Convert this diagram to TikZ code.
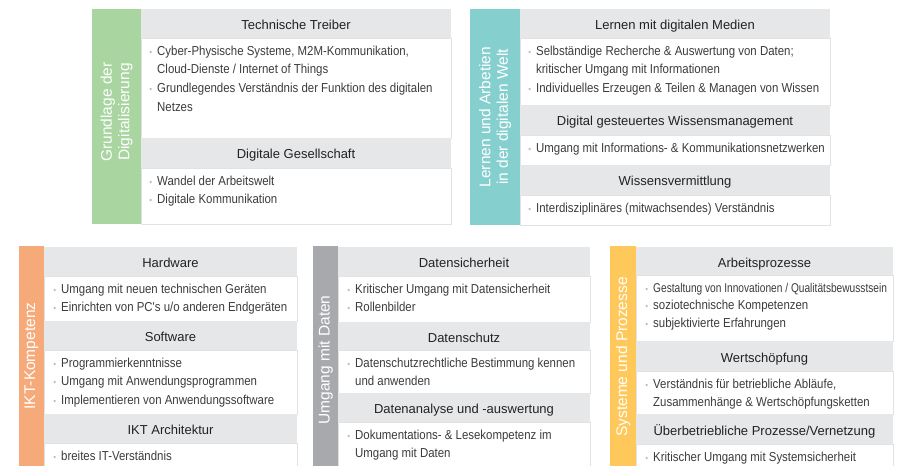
\documentclass[tikz,border=0pt]{standalone}
\usepackage{fontspec}
\setmainfont{Liberation Sans}
\newfontfamily\itemfont{Liberation Sans}[FakeStretch=0.88]
\newfontfamily\narrowfont{Liberation Sans}[FakeStretch=0.8]

\definecolor{barGreen}{HTML}{A8D5A0}
\definecolor{barTeal}{HTML}{86CFCF}
\definecolor{barOrange}{HTML}{F6AA7A}
\definecolor{barGray}{HTML}{A7A9AC}
\definecolor{barYellow}{HTML}{FEC85A}
\definecolor{headGray}{HTML}{E6E7E8}
\definecolor{lineGray}{HTML}{E2E2E2}
\definecolor{dotGray}{HTML}{BDBDBD}
\definecolor{itemText}{HTML}{3C3C3C}
\definecolor{headText}{HTML}{222222}

% bullet in front of a list line
\newcommand{\itm}{\rule{0pt}{11pt}\llap{\textcolor{dotGray}{\fontsize{9}{9}\selectfont •}\hspace{5pt}}}

\begin{document}
\begin{tikzpicture}[x=1pt,y=-1pt,
  head/.style={anchor=base, font=\fontsize{13}{15}\selectfont, text=headText},
  items/.style={anchor=north west, align=left, inner sep=0pt, font=\itemfont\fontsize{13}{18.7}\selectfont, text=itemText},
  side/.style={rotate=90, align=center, inner sep=0pt, text=white, font=\fontsize{15.5}{17.5}\selectfont},
  cell/.style={fill=white, draw=lineGray, line width=0.6pt}]

\useasboundingbox (0,0) rectangle (906,466);

% Grundlage der Digitalisierung
\fill[barGreen] (92,9) rectangle (141,224);
\fill[headGray] (141,9) rectangle (451,38);
\draw[cell] (141,38) rectangle (451,138);
\fill[headGray] (141,138) rectangle (451,168);
\draw[cell] (141,168) rectangle (451,224);
\node[side] (gd) at (116.5,112) {Grundlage der\\Digitalisierung};
\node[head] (tt) at (296,29.5) {Technische Treiber};
\node[items] (ttl) at (157,44) {\itm Cyber-Physische Systeme, M2M-Kommunikation,\\
  Cloud-Dienste / Internet of Things\\
  \itm Grundlegendes Verständnis der Funktion des digitalen\\
  Netzes};
\node[head] (dg) at (296,158.5) {Digitale Gesellschaft};
\node[items] (dgl) at (157,174) {\itm Wandel der Arbeitswelt\\ \itm Digitale Kommunikation};

% Lernen und Arbeiten in der digitalen Welt
\fill[barTeal] (470,9) rectangle (520,225);
\fill[headGray] (520,9) rectangle (830,38);
\draw[cell] (520,38) rectangle (830,105);
\fill[headGray] (520,105) rectangle (830,135);
\draw[cell] (520,135) rectangle (830,165);
\fill[headGray] (520,165) rectangle (830,195);
\draw[cell] (520,195) rectangle (830,225);
\node[side] (lw) at (495,117) {Lernen und Arbetien\\in der digitalen Welt};
\node[head] (lm) at (675,29.5) {Lernen mit digitalen Medien};
\node[items] (lml) at (536,44) {\itm Selbständige Recherche \& Auswertung von Daten;\\
  kritischer Umgang mit Informationen\\
  \itm Individuelles Erzeugen \& Teilen \& Managen von Wissen};
\node[head] (wm) at (675,125.5) {Digital gesteuertes Wissensmanagement};
\node[items] (wml) at (536,141) {\itm Umgang mit Informations- \& Kommunikationsnetzwerken};
\node[head] (wv) at (675,185.5) {Wissensvermittlung};
\node[items] (wvl) at (536,201) {\itm Interdisziplinäres (mitwachsendes) Verständnis};

% IKT-Kompetenz
\fill[barOrange] (19,246) rectangle (44,470);
\fill[headGray] (44,247) rectangle (297,276);
\draw[cell] (44,276) rectangle (297,321);
\fill[headGray] (44,321) rectangle (297,350);
\draw[cell] (44,350) rectangle (297,414);
\fill[headGray] (44,414) rectangle (297,443);
\draw[cell] (44,443) rectangle (297,470);
\node[side] (ik) at (31.5,356) {IKT-Kompetenz};
\node[head] (hw) at (170.5,267.5) {Hardware};
\node[items] (hwl) at (61,282) {\itm Umgang mit neuen technischen Geräten\\
  \itm Einrichten von PC's u/o anderen Endgeräten};
\node[head] (sw) at (170.5,341.5) {Software};
\node[items] (swl) at (61,356) {\itm Programmierkenntnisse\\
  \itm Umgang mit Anwendungsprogrammen\\
  \itm Implementieren von Anwendungssoftware};
\node[head] (ia) at (170.5,434.5) {IKT Architektur};
\node[items] (ial) at (61,449) {\itm breites IT-Verständnis};

% Umgang mit Daten
\fill[barGray] (313,246) rectangle (338,470);
\fill[headGray] (338,247) rectangle (590,276);
\draw[cell] (338,276) rectangle (590,322);
\fill[headGray] (338,322) rectangle (590,350);
\draw[cell] (338,350) rectangle (590,393);
\fill[headGray] (338,393) rectangle (590,422);
\draw[cell] (338,422) rectangle (590,470);
\node[side] (ud) at (325.5,360) {Umgang mit Daten};
\node[head] (ds) at (464,267.5) {Datensicherheit};
\node[items] (dsl) at (355,282) {\itm Kritischer Umgang mit Datensicherheit\\
  \itm Rollenbilder};
\node[head] (dz) at (464,342) {Datenschutz};
\node[items] (dzl) at (355,356) {\itm Datenschutzrechtliche Bestimmung kennen\\
  und anwenden};
\node[head] (da) at (464,413.5) {Datenanalyse und -auswertung};
\node[items] (dal) at (355,428) {\itm Dokumentations- \& Lesekompetenz im\\
  Umgang mit Daten};

% Systeme und Prozesse
\fill[barYellow] (610,246) rectangle (636,470);
\fill[headGray] (636,247) rectangle (893,275);
\draw[cell] (636,275) rectangle (893,341);
\fill[headGray] (636,341) rectangle (893,371);
\draw[cell] (636,371) rectangle (893,414);
\fill[headGray] (636,414) rectangle (893,444);
\draw[cell] (636,444) rectangle (893,470);
\node[side] (sp) at (623,357) {Systeme und Prozesse};
\node[head] (ap) at (764.5,267) {Arbeitsprozesse};
\node[items, font=\itemfont\fontsize{13}{17.7}\selectfont] (apl) at (653,281) {\itm{\narrowfont\fontsize{12.7}{17.7}\selectfont Gestaltung von Innovationen / Qualitätsbewusstsein}\\
  \itm soziotechnische Kompetenzen\\
  \itm subjektivierte Erfahrungen};
\node[head] (ws) at (764.5,362) {Wertschöpfung};
\node[items] (wsl) at (653,377) {\itm Verständnis für betriebliche Abläufe,\\
  Zusammenhänge \& Wertschöpfungsketten};
\node[head] (ub) at (764.5,435) {Überbetriebliche Prozesse/Vernetzung};
\node[items] (ubl) at (653,450) {\itm Kritischer Umgang mit Systemsicherheit};

\end{tikzpicture}
\end{document}
